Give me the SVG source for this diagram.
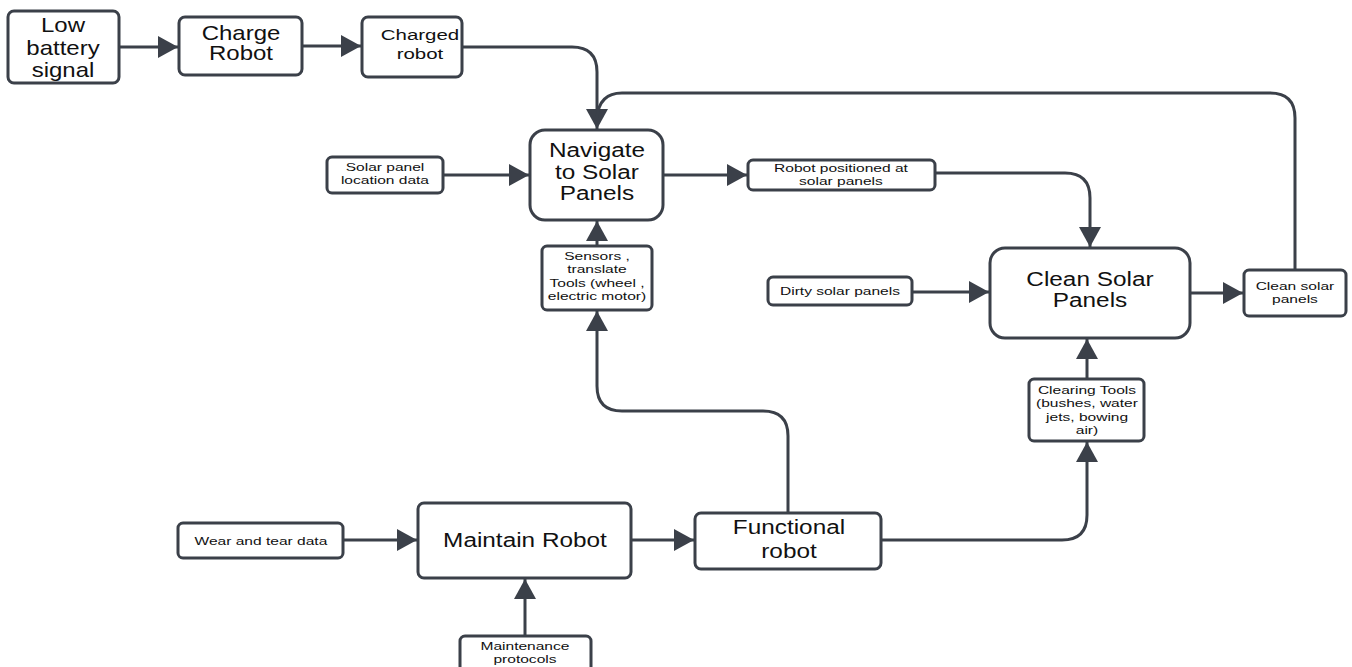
<svg xmlns="http://www.w3.org/2000/svg" width="1352" height="667" viewBox="0 0 1352 667">
<defs>
<style>
.box{fill:#fff;stroke:#3b4049;stroke-width:3}
.ln{fill:none;stroke:#3b4049;stroke-width:3}
text{font-family:"Liberation Sans",Arial,sans-serif;fill:#111;text-anchor:middle;transform-box:fill-box;transform-origin:center}
.s{font-size:11.6px;transform:scaleX(1.34)}
.m{font-size:15.5px;transform:scaleX(1.32)}
.l{font-size:20px;transform:scaleX(1.2)}
.xl{font-size:19.8px;transform:scaleX(1.23)}
</style>
<marker id="ah" markerUnits="userSpaceOnUse" markerWidth="24" markerHeight="24" viewBox="0 0 24 24" refX="22" refY="12" orient="auto">
<path d="M2,1 L22,12 L2,23 Z" fill="#3b4049"/>
</marker>
</defs>
<rect width="1352" height="667" fill="#fff"/>
<g id="connectors">
<path class="ln" d="M119,47 H178" marker-end="url(#ah)"/>
<path class="ln" d="M302,46 H361" marker-end="url(#ah)"/>
<path class="ln" d="M462,47 H572 Q597,47 597,72 V129" marker-end="url(#ah)"/>
<path class="ln" d="M1295,270 V118 Q1295,93 1270,93 H622 Q599,93 597,118"/>
<path class="ln" d="M443,175 H529" marker-end="url(#ah)"/>
<path class="ln" d="M597,246 V221" marker-end="url(#ah)"/>
<path class="ln" d="M788,512 V436 Q788,411 763,411 H622 Q597,411 597,386 V311" marker-end="url(#ah)"/>
<path class="ln" d="M663,175 H747" marker-end="url(#ah)"/>
<path class="ln" d="M935,173 H1065 Q1090,173 1090,198 V247" marker-end="url(#ah)"/>
<path class="ln" d="M912,292 H989" marker-end="url(#ah)"/>
<path class="ln" d="M1190,293 H1243" marker-end="url(#ah)"/>
<path class="ln" d="M1087,379 V339" marker-end="url(#ah)"/>
<path class="ln" d="M881,540 H1062 Q1087,540 1087,515 V442" marker-end="url(#ah)"/>
<path class="ln" d="M343,540 H417" marker-end="url(#ah)"/>
<path class="ln" d="M631,540 H694" marker-end="url(#ah)"/>
<path class="ln" d="M525,636 V579" marker-end="url(#ah)"/>
</g>
<g id="low-battery">
<rect class="box" x="8" y="11" width="111" height="72" rx="6"/>
<text class="l" x="63" y="32">Low</text>
<text class="l" x="63" y="55">battery</text>
<text class="l" x="63" y="77">signal</text>
</g>
<g id="charge-robot">
<rect class="box" x="179" y="17" width="123" height="58" rx="6"/>
<text class="l" x="241" y="40">Charge</text>
<text class="l" x="241" y="60">Robot</text>
</g>
<g id="charged-robot">
<rect class="box" x="362" y="17" width="100" height="60" rx="6"/>
<text class="m" x="420" y="40">Charged</text>
<text class="m" x="420" y="59">robot</text>
</g>
<g id="navigate">
<rect class="box" x="530" y="130" width="133" height="90" rx="15"/>
<text class="xl" x="597" y="157">Navigate</text>
<text class="xl" x="597" y="179">to Solar</text>
<text class="xl" x="597" y="200">Panels</text>
</g>
<g id="solar-location">
<rect class="box" x="327" y="157" width="116" height="36" rx="5"/>
<text class="s" x="385" y="171">Solar panel</text>
<text class="s" x="385" y="184">location data</text>
</g>
<g id="sensors">
<rect class="box" x="542" y="246" width="110" height="64" rx="5"/>
<text class="s" x="597" y="260">Sensors ,</text>
<text class="s" x="597" y="273">translate</text>
<text class="s" x="597" y="287">Tools (wheel ,</text>
<text class="s" x="597" y="300">electric motor)</text>
</g>
<g id="robot-positioned">
<rect class="box" x="748" y="160" width="187" height="30" rx="5"/>
<text class="s" x="841" y="172">Robot positioned at</text>
<text class="s" x="841" y="185">solar panels</text>
</g>
<g id="clean-solar">
<rect class="box" x="990" y="248" width="200" height="90" rx="15"/>
<text class="xl" x="1090" y="286">Clean Solar</text>
<text class="xl" x="1090" y="307">Panels</text>
</g>
<g id="dirty">
<rect class="box" x="768" y="277" width="144" height="28" rx="5"/>
<text class="s" x="840" y="295">Dirty solar panels</text>
</g>
<g id="clean-out">
<rect class="box" x="1244" y="270" width="102" height="46" rx="5"/>
<text class="s" x="1295" y="290">Clean solar</text>
<text class="s" x="1295" y="303">panels</text>
</g>
<g id="clearing-tools">
<rect class="box" x="1029" y="379" width="115" height="62" rx="5"/>
<text class="s" x="1087" y="394">Clearing Tools</text>
<text class="s" x="1087" y="407">(bushes, water</text>
<text class="s" x="1087" y="421">jets, bowing</text>
<text class="s" x="1087" y="434">air)</text>
</g>
<g id="wear">
<rect class="box" x="178" y="523" width="165" height="35" rx="5"/>
<text class="s" x="261" y="545">Wear and tear data</text>
</g>
<g id="maintain">
<rect class="box" x="418" y="503" width="213" height="75" rx="6"/>
<text class="xl" x="525" y="547">Maintain Robot</text>
</g>
<g id="functional">
<rect class="box" x="695" y="513" width="186" height="56" rx="6"/>
<text class="xl" x="789" y="534">Functional</text>
<text class="xl" x="789" y="558">robot</text>
</g>
<g id="maintenance">
<rect class="box" x="460" y="636" width="131" height="40" rx="5"/>
<text class="s" x="525" y="650">Maintenance</text>
<text class="s" x="525" y="663">protocols</text>
</g>
</svg>
